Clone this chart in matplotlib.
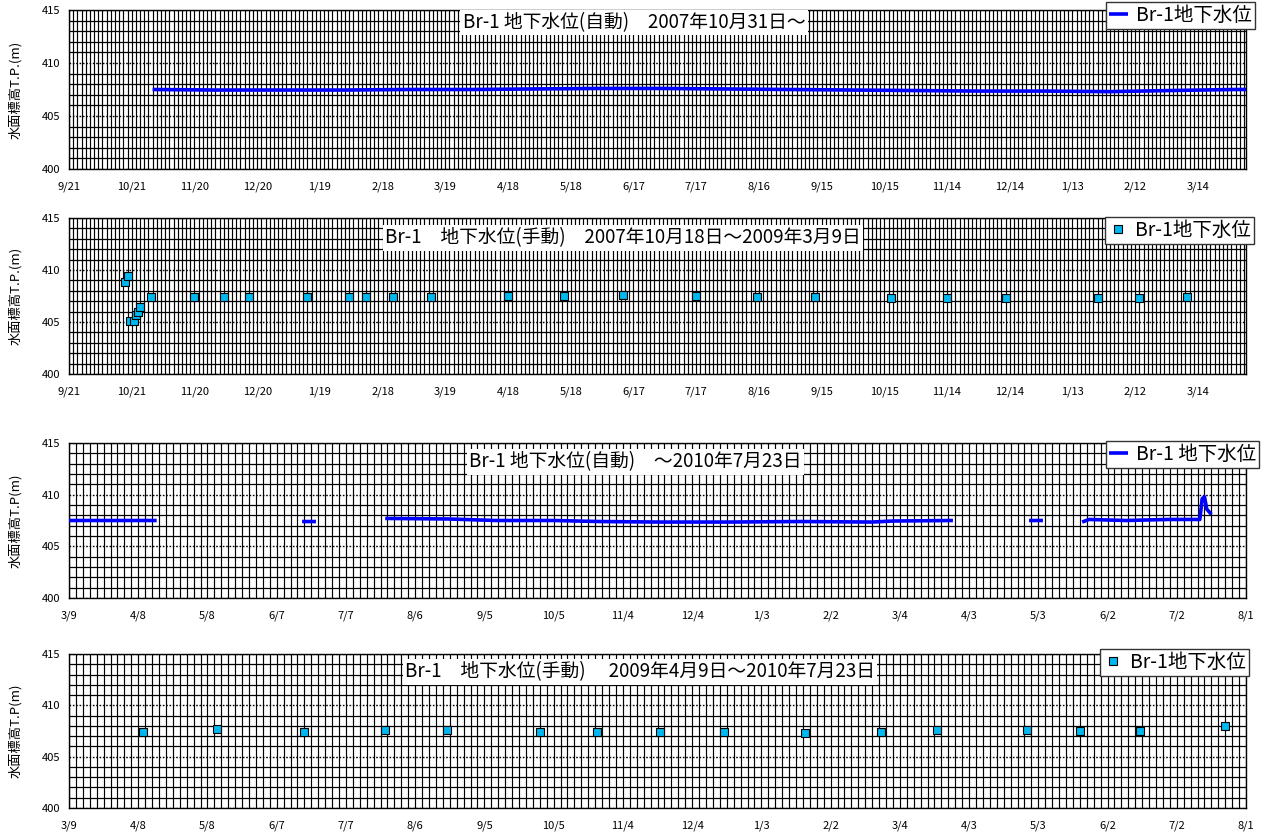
import datetime as dt
import numpy as np
import pandas as pd
import matplotlib
matplotlib.use("Agg")
import matplotlib.pyplot as plt
import matplotlib.dates as mdates
from matplotlib.ticker import MultipleLocator

plt.rcParams['font.family'] = ['Noto Sans CJK JP', 'DejaVu Sans']

# --- data ---
# panel 1: automatic logger, 2007/10/31 -
auto1_dates = ['2007-10-31', '2007-11-30', '2007-12-31', '2008-01-31', '2008-02-29',
               '2008-03-31', '2008-04-30', '2008-05-31', '2008-06-30', '2008-07-31',
               '2008-08-31', '2008-09-30', '2008-10-31', '2008-11-30', '2008-12-31',
               '2009-01-31', '2009-02-28', '2009-03-31', '2009-04-06']
auto1_level = [407.5, 407.45, 407.45, 407.45, 407.5,
               407.5, 407.55, 407.6, 407.6, 407.55,
               407.5, 407.45, 407.4, 407.35, 407.35,
               407.3, 407.4, 407.5, 407.5]

# panel 2: manual readings 2007/10/18 - 2009/3/9
manual1_dates = ['2007-10-18', '2007-10-19', '2007-10-20', '2007-10-22', '2007-10-23',
                 '2007-10-24', '2007-10-25', '2007-10-30', '2007-11-20', '2007-12-04',
                 '2007-12-16', '2008-01-13', '2008-02-02', '2008-02-10', '2008-02-23',
                 '2008-03-12', '2008-04-18', '2008-05-15', '2008-06-12', '2008-07-17',
                 '2008-08-15', '2008-09-12', '2008-10-18', '2008-11-14', '2008-12-12',
                 '2009-01-25', '2009-02-14', '2009-03-09']
manual1_level = [408.8, 409.4, 405.1, 405.1, 405.7,
                 406.0, 406.4, 407.4, 407.4, 407.4,
                 407.4, 407.4, 407.4, 407.4, 407.4,
                 407.4, 407.5, 407.5, 407.6, 407.5,
                 407.4, 407.4, 407.35, 407.3, 407.35,
                 407.3, 407.3, 407.4]

# panel 3: automatic logger - 2010/7/23 (NaN = gap)
auto2_dates = ['2009-03-09', '2009-04-16', '2009-04-17',
               '2009-06-18', '2009-06-24', '2009-06-25',
               '2009-07-24', '2009-08-20', '2009-09-10', '2009-10-05', '2009-10-25',
               '2009-11-20', '2009-12-20', '2010-01-20', '2010-02-20', '2010-03-01',
               '2010-03-27', '2010-03-28',
               '2010-04-29', '2010-05-05', '2010-05-06',
               '2010-05-22', '2010-05-25', '2010-06-10', '2010-06-28', '2010-07-12',
               '2010-07-13', '2010-07-14', '2010-07-15', '2010-07-17']
auto2_level = [407.5, 407.5, np.nan,
               407.4, 407.4, np.nan,
               407.7, 407.65, 407.5, 407.5, 407.4,
               407.35, 407.35, 407.4, 407.35, 407.45,
               407.5, np.nan,
               407.5, 407.5, np.nan,
               407.35, 407.6, 407.5, 407.6, 407.6,
               409.6, 409.8, 408.6, 408.1]

# panel 4: manual readings 2009/4/9 - 2010/7/23
manual2_dates = ['2009-04-10', '2009-05-12', '2009-06-19', '2009-07-24', '2009-08-20',
                 '2009-09-29', '2009-10-24', '2009-11-20', '2009-12-18', '2010-01-22',
                 '2010-02-24', '2010-03-20', '2010-04-28', '2010-05-21', '2010-06-16',
                 '2010-07-23']
manual2_level = [407.45, 407.65, 407.45, 407.6, 407.6,
                 407.4, 407.4, 407.4, 407.4, 407.35,
                 407.4, 407.6, 407.6, 407.5, 407.5,
                 407.95]

titles = ['Br-1 地下水位(自動)\u30002007年10月31日～',
          'Br-1\u3000地下水位(手動)\u30002007年10月18日～2009年3月9日',
          'Br-1 地下水位(自動)\u3000～2010年7月23日',
          'Br-1\u3000地下水位(手動)\u3000 2009年4月9日～2010年7月23日']
legend_labels = ['Br-1地下水位', 'Br-1地下水位', 'Br-1 地下水位', 'Br-1地下水位']
ylabels = ['水面標高T.P.(m)', '水面標高T.P.(m)', '水面標高T.P(m)', '水面標高T.P(m)']

# axis ranges: (start, end, minor step in days)
ranges = [('2007-09-21', '2009-04-06', 2), ('2007-09-21', '2009-04-06', 2),
          ('2009-03-09', '2010-08-01', 3), ('2009-03-09', '2010-08-01', 3)]

W, H = 1262, 832
fig = plt.figure(figsize=(W / 100, H / 100), dpi=100)

# pixel boxes (top, bottom) of the four plots
boxes = [(10, 169), (218, 374), (443, 598), (654, 808)]
left, right = 69, 1246
title_pos = [(0.48, 0.922), (0.471, 0.872), (0.481, 0.877), (0.485, 0.883)]
legend_anchor = [(1255, 2), (1254, 217), (1259, 441), (1249, 649)]

blue = '#0000FF'
cyan = '#00B8F0'

for i in range(4):
    top, bot = boxes[i]
    ax = fig.add_axes([left / W, 1 - bot / H, (right - left) / W, (bot - top) / H])
    start, end, step = ranges[i]
    ax.set_xlim(pd.Timestamp(start), pd.Timestamp(end))
    ax.set_ylim(400, 415)

    if i in (0, 2):
        src_d, src_v = (auto1_dates, auto1_level) if i == 0 else (auto2_dates, auto2_level)
        ax.plot(pd.to_datetime(src_d), src_v, color=blue, lw=2.6,
                solid_capstyle='butt', label=legend_labels[i], zorder=3)
    else:
        src_d, src_v = (manual1_dates, manual1_level) if i == 1 else (manual2_dates, manual2_level)
        ax.plot(pd.to_datetime(src_d), src_v, ls='none', marker='s', ms=5.5,
                mfc=cyan, mec='black', mew=0.8, label=legend_labels[i], zorder=3)

    major = pd.date_range(start, end, freq='30D')
    minor = pd.date_range(start, end, freq='%dD' % step)
    ax.set_xticks(major)
    ax.set_xticklabels([f'{t.month}/{t.day}' for t in major])
    ax.set_xticks(minor, minor=True)
    ax.yaxis.set_major_locator(MultipleLocator(5))
    ax.yaxis.set_minor_locator(MultipleLocator(1))

    ax.set_axisbelow(True)
    ax.grid(True, which='both', axis='x', color='black', lw=0.85)
    ax.grid(True, which='minor', axis='y', color='black', lw=0.9)
    ax.grid(True, which='major', axis='y', color='black', lw=1.0, ls=(0, (1.2, 1.2)))

    ax.tick_params(which='both', length=0)
    ax.tick_params(axis='x', labelsize=8, pad=9)
    ax.tick_params(axis='y', labelsize=8, pad=6)
    for s in ax.spines.values():
        s.set_color('black')
        s.set_linewidth(1.0)

    ax.set_ylabel(ylabels[i], fontsize=9.5)
    ax.yaxis.set_label_coords(-0.04, 0.5)

    tx, ty = title_pos[i]
    ax.text(tx, ty, titles[i], transform=ax.transAxes, ha='center', va='center',
            fontsize=13.5, zorder=5,
            bbox=dict(boxstyle='square,pad=0.12', fc='white', ec='none'))

    lx, ly = legend_anchor[i]
    leg = ax.legend(loc='upper right', bbox_to_anchor=(lx / W, 1 - ly / H),
                    bbox_transform=fig.transFigure, borderaxespad=0,
                    fontsize=14, frameon=True, fancybox=False, framealpha=1,
                    edgecolor='#333333', handlelength=1.0, handletextpad=0.4,
                    borderpad=0.15, markerscale=1.0)
    leg.get_frame().set_linewidth(1.0)
    leg.set_zorder(6)

fig.savefig('out.png', dpi=100, facecolor='white')
